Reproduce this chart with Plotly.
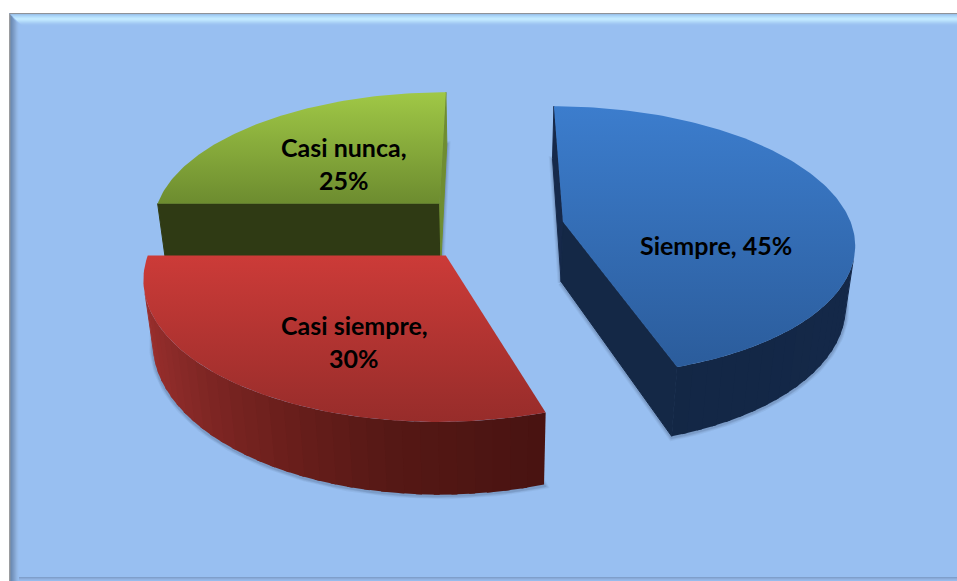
import math
import plotly.graph_objects as go

# Survey shares
categories = ["Siempre", "Casi siempre", "Casi nunca"]
values = [45, 30, 25]

# Colours per slice: top gradient (far, near), outer wall stops by bearing, cut faces
top_colors = ["#3c7dcd", "#2b5c9b"], ["#cc3b38", "#962c2a"], ["#a0c846", "#6c8b2f"]
top_spans = [(106, 370), (255, 425), (92, 205)]
wall_stops = [
    [(0, "#17304f"), (90, "#15294a"), (180, "#122644")],
    [(162, "#481311"), (189, "#561815"), (210, "#6e201d"), (235, "#8a2a28"), (255, "#9b2f2d"), (270, "#ad3532")],
    [(270, "#5a7a28"), (360, "#5a7a28")],
]
start_face = ["#16294a", "#481311", "#2f3a14"]
end_face = ["#142846", "#481311", "#6f8d31"]

# Label text lines and their anchors on the page
label_lines = [
    [("Siempre, 45%", 716, 245)],
    [("Casi siempre,", 354, 325), ("30%", 354, 358)],
    [("Casi nunca,", 344, 147), ("25%", 344, 180)],
]

WIDTH, HEIGHT = 957, 581
BG = "#98bff1"

# Perspective camera of the pie, in page pixels
VX, VY = 490.5, -706.0
PERSP, DIST, SCALE = 6519.0, 6.986, 0.310
EXPLODE = 0.255
DEPTH = 0.0645
VERT_CONV = 2400.0
STRIP_DEG = 3


def project(wx, wy, base=False):
    dy = PERSP / (DIST + wy)
    x = VX + SCALE * wx * dy
    y = VY + dy
    if base:
        d = DEPTH * dy
        x += (VX - x) * d / VERT_CONV
        y += d
    return x, y


def hex_rgb(c):
    return tuple(int(c[i:i + 2], 16) for i in (1, 3, 5))


def stop_color(stops, t):
    for (a, ca), (b, cb) in zip(stops, stops[1:]):
        if t <= b:
            f = max(0.0, (t - a) / (b - a))
            ra, rb = hex_rgb(ca), hex_rgb(cb)
            return "rgb(%d,%d,%d)" % tuple(round(p + (q - p) * f) for p, q in zip(ra, rb))
    return stops[-1][1]


def front_facing(a, b):
    pts = [project(*a), project(*b), project(*b, base=True), project(*a, base=True)]
    area = sum(pts[i][0] * pts[(i + 1) % 4][1] - pts[(i + 1) % 4][0] * pts[i][1] for i in range(4))
    return area < 0


def poly_trace(pts, color, edge=0):
    xs = [p[0] for p in pts] + [pts[0][0]]
    ys = [p[1] for p in pts] + [pts[0][1]]
    return go.Scatter(x=xs, y=ys, mode="lines", fill="toself", fillcolor=color,
                      line=dict(width=edge, color=color), hoverinfo="skip", showlegend=False)


fig = go.Figure()

# Work out each slice's bearing range, clockwise from twelve o'clock
total = sum(values)
slices = []
acc = 0.0
for i, v in enumerate(values):
    start = acc / total * 360
    acc += v
    slices.append((i, start, acc / total * 360))

# Far slices are painted first so the nearer ones overlap them
for i, a0, a1 in sorted(slices, key=lambda s: {0: 1, 1: 2, 2: 0}[s[0]]):
    mid = math.radians((a0 + a1) / 2)
    cx, cy = EXPLODE * math.sin(mid), EXPLODE * math.cos(mid)
    n = max(24, int(a1 - a0))
    bearings = [a0 + (a1 - a0) * k / n for k in range(n + 1)]
    rim = [(cx + math.sin(math.radians(b)), cy + math.cos(math.radians(b))) for b in bearings]
    apex = (cx, cy)

    # Soft contact shadow around the base of the slice
    base_outline = [project(*apex, base=True)] + [project(*p, base=True) for p in rim]
    for lw, alpha in ((7, 0.06), (5, 0.08), (3, 0.12)):
        xs = [p[0] for p in base_outline] + [base_outline[0][0]]
        ys = [p[1] + 1 for p in base_outline] + [base_outline[0][1] + 1]
        fig.add_trace(go.Scatter(x=xs, y=ys, mode="lines",
                                 line=dict(color=f"rgba(35,50,75,{alpha})", width=lw),
                                 hoverinfo="skip", showlegend=False))

    # Outer wall as overlapping vertical bands, so no seams show between them
    k = 0
    while k < n:
        k1 = min(k + STRIP_DEG, n)
        k2 = min(k1 + 1, n)
        if front_facing(rim[k], rim[k1]):
            color = stop_color(wall_stops[i], (bearings[k] + bearings[k1]) / 2)
            band = [project(*p) for p in rim[k:k2 + 1]] + [project(*p, base=True) for p in reversed(rim[k:k2 + 1])]
            fig.add_trace(poly_trace(band, color))
        k = k1

    # Cut faces, with a hairline edge that closes the join against the wall
    for a, b, color in ((apex, rim[0], start_face[i]), (rim[-1], apex, end_face[i])):
        if front_facing(a, b):
            fig.add_trace(poly_trace([project(*a), project(*b), project(*b, base=True), project(*a, base=True)],
                                     color, edge=1))

    # Top surface
    top = [project(*apex)] + [project(*p) for p in rim]
    xs = [p[0] for p in top] + [top[0][0]]
    ys = [p[1] for p in top] + [top[0][1]]
    fig.add_trace(go.Scatter(
        x=xs, y=ys, mode="lines", fill="toself",
        fillgradient=dict(type="vertical", start=top_spans[i][0], stop=top_spans[i][1],
                          colorscale=[[0, top_colors[i][0]], [1, top_colors[i][1]]]),
        line=dict(width=0), hoverinfo="skip", showlegend=False))

# Bevelled chart frame
FX0, FY0, FX1, FY1 = 9, 13, 957, 578
top_bevel = ["#8f9398", "#9cc3ea", "#a6d0f5", "#b0dafa", "#b9e2fd", "#c2e9ff", "#c2e8ff", "#bbe2fd",
             "#b2daf9", "#aad1f6", "#a2c9f4", "#9cc3f2", "#99c0f1"]
left_bevel = ["#9a9c9f", "#7b8fa8", "#6e8db5", "#7494be", "#7b9bc6", "#82a3ce", "#89abd7", "#90b3e0", "#94b9e8", "#97bdee"]
bottom_bevel = ["#7f9fcb", "#8aaad8", "#92b4e3", "#96bbec"]
shapes = [dict(type="rect", x0=FX0, y0=FY0, x1=FX1, y1=HEIGHT, fillcolor=BG, line_width=0, layer="below")]
for j, c in enumerate(bottom_bevel):
    shapes.append(dict(type="rect", layer="below", fillcolor=c, line_width=0,
                       x0=FX0 + 10, x1=FX1, y0=HEIGHT - 4 + j, y1=HEIGHT - 3 + j))
for j, c in enumerate(top_bevel):
    shapes.append(dict(type="path", layer="below", fillcolor=c, line_width=0,
                       path=f"M{FX0 + j},{FY0 + j} L{FX1},{FY0 + j} L{FX1},{FY0 + j + 1} L{FX0 + j + 1.2},{FY0 + j + 1} Z"))
for j, c in enumerate(left_bevel):
    shapes.append(dict(type="path", layer="below", fillcolor=c, line_width=0,
                       path=f"M{FX0 + j},{FY0 + j * 1.2} L{FX0 + j + 1},{FY0 + (j + 1) * 1.2} L{FX0 + j + 1},{HEIGHT} L{FX0 + j},{HEIGHT} Z"))

annotations = []
for lines in label_lines:
    for text, lx, ly in lines:
        annotations.append(dict(x=lx, y=ly, text=text, showarrow=False, xanchor="center", yanchor="middle",
                                font=dict(family="Lato", size=25, color="#000000", weight="bold")))

fig.update_layout(
    width=WIDTH, height=HEIGHT, margin=dict(l=0, r=0, t=0, b=0),
    paper_bgcolor="#ffffff", plot_bgcolor="rgba(0,0,0,0)", showlegend=False,
    xaxis=dict(range=[0, WIDTH], visible=False, fixedrange=True),
    yaxis=dict(range=[HEIGHT, 0], visible=False, fixedrange=True),
    shapes=shapes, annotations=annotations,
)
fig.write_html("out.html", config={"displayModeBar": False})
